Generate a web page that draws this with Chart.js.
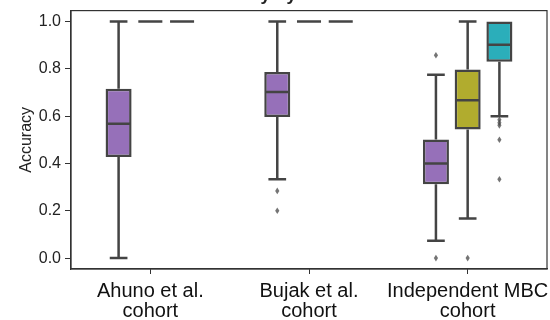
<!DOCTYPE html>
<html>
<head>
<meta charset="utf-8">
<script src="https://cdn.jsdelivr.net/npm/chart.js@4"></script>
<style>
  html, body { margin: 0; padding: 0; background: #fff; }
  #wrap { position: relative; width: 550px; height: 320px; overflow: hidden; }
  #holder { position: absolute; left: 0; top: -20px; width: 550px; height: 340px; }
</style>
</head>
<body>
<div id="wrap"><div id="holder"><canvas id="chart"></canvas></div></div>
<script>
// categories on the x axis
const categories = [['Ahuno et al.', 'cohort'], ['Bujak et al.', 'cohort'], ['Independent MBC', 'cohort']];
const yTicks = [0.0, 0.2, 0.4, 0.6, 0.8, 1.0];

// box stats per hue (one entry per cohort)
const purpleQ1 = [0.427, 0.596, 0.312];
const purpleMed = [0.568, 0.702, 0.400];
const purpleQ3 = [0.716, 0.786, 0.501];
const purpleLo = [0.0, 0.333, 0.073];
const purpleHi = [1.0, 1.0, 0.775];
const purpleOut = [[], [0.284, 0.2], [0.857, 0.0]];

const oliveQ1 = [1.0, 1.0, 0.544];
const oliveMed = [1.0, 1.0, 0.667];
const oliveQ3 = [1.0, 1.0, 0.797];
const oliveLo = [1.0, 1.0, 0.167];
const oliveHi = [1.0, 1.0, 1.0];
const oliveOut = [[], [], [0.0]];

const tealQ1 = [1.0, 1.0, 0.83];
const tealMed = [1.0, 1.0, 0.902];
const tealQ3 = [1.0, 1.0, 1.0];
const tealLo = [1.0, 1.0, 0.6];
const tealHi = [1.0, 1.0, 1.0];
const tealOut = [[], [], [0.585, 0.572, 0.561, 0.5, 0.333]];

const EDGE = '#444444';
const FONT = 'Liberation Sans, Arial, sans-serif';

const hues = [
    { label: 'Series 1', color: '#9670b9', q1: purpleQ1, med: purpleMed, q3: purpleQ3, lo: purpleLo, hi: purpleHi, out: purpleOut },
    { label: 'Series 2', color: '#b1ac2e', q1: oliveQ1, med: oliveMed, q3: oliveQ3, lo: oliveLo, hi: oliveHi, out: oliveOut },
    { label: 'Series 3', color: '#2baeba', q1: tealQ1, med: tealMed, q3: tealQ3, lo: tealLo, hi: tealHi, out: tealOut }
];

// whiskers, caps, medians, fliers and the top/right frame
const boxPlugin = {
    id: 'boxExtras',
    afterDatasetsDraw(chart) {
        const ctx = chart.ctx;
        const y = chart.scales.y;
        ctx.save();
        ctx.strokeStyle = EDGE;
        ctx.lineWidth = 2.5;
        hues.forEach((h, i) => {
            const meta = chart.getDatasetMeta(i);
            meta.data.forEach((el, j) => {
                const x = el.x;
                const w = el.width;
                const cap = w * 0.34;
                const flat = h.q1[j] === h.q3[j];
                const yq1 = y.getPixelForValue(h.q1[j]);
                const yq3 = y.getPixelForValue(h.q3[j]);
                const ylo = y.getPixelForValue(h.lo[j]);
                const yhi = y.getPixelForValue(h.hi[j]);
                const ymed = y.getPixelForValue(h.med[j]);
                ctx.beginPath();
                // lower whisker + cap
                if (flat || h.lo[j] !== h.q1[j]) {
                    ctx.moveTo(x, yq1); ctx.lineTo(x, ylo);
                    ctx.moveTo(x - cap, ylo); ctx.lineTo(x + cap, ylo);
                }
                // upper whisker + cap
                if (flat || h.hi[j] !== h.q3[j]) {
                    ctx.moveTo(x, yq3); ctx.lineTo(x, yhi);
                    ctx.moveTo(x - cap, yhi); ctx.lineTo(x + cap, yhi);
                }
                // median
                ctx.moveTo(x - w / 2 + 1, ymed); ctx.lineTo(x + w / 2 - 1, ymed);
                ctx.stroke();
                // fliers as thin diamonds
                ctx.fillStyle = 'rgba(70,70,70,0.75)';
                h.out[j].forEach(v => {
                    const py = y.getPixelForValue(v);
                    ctx.beginPath();
                    ctx.moveTo(x, py - 3.3);
                    ctx.lineTo(x + 2.1, py);
                    ctx.lineTo(x, py + 3.3);
                    ctx.lineTo(x - 2.1, py);
                    ctx.closePath();
                    ctx.fill();
                });
            });
        });
        const a = chart.chartArea;
        ctx.strokeStyle = '#333';
        ctx.lineWidth = 1.2;
        ctx.strokeRect(a.left, a.top, a.right - a.left, a.bottom - a.top);
        ctx.restore();
    }
};

new Chart(document.getElementById('chart'), {
    type: 'bar',
    data: {
        labels: categories,
        datasets: hues.map(h => ({
            label: h.label,
            data: h.q1.map((v, j) => [v, h.q3[j]]),
            backgroundColor: h.color,
            borderColor: EDGE,
            borderWidth: 2.5,
            borderSkipped: false,
            categoryPercentage: 0.6,
            barPercentage: 0.82
        }))
    },
    options: {
        responsive: true,
        maintainAspectRatio: false,
        animation: false,
        layout: { padding: { left: 0, right: 3, top: 0, bottom: 0 } },
        plugins: {
            legend: { display: false },
            tooltip: { enabled: false },
            title: {
                display: true,
                text: 'Accuracy by cohort',
                color: '#222',
                font: { family: FONT, size: 18 },
                padding: { top: 4, bottom: 5 }
            }
        },
        scales: {
            x: {
                grid: { display: true, offset: false, drawOnChartArea: false, drawTicks: true, tickLength: 5, color: '#333' },
                border: { display: true, color: '#333', width: 1.2 },
                ticks: {
                    color: '#111',
                    padding: 7,
                    maxRotation: 0,
                    autoSkip: false,
                    font: { family: FONT, size: 20, lineHeight: 1.0 }
                },
                afterFit(scale) {
                    scale.height = 51;
                    scale.paddingLeft = 0;
                    scale.paddingRight = 0;
                }
            },
            y: {
                min: -0.046,
                max: 1.046,
                afterBuildTicks(scale) { scale.ticks = yTicks.map(v => ({ value: v })); },
                grid: { display: true, drawOnChartArea: false, drawTicks: true, tickLength: 6, color: '#333' },
                border: { display: true, color: '#333', width: 1.2 },
                ticks: {
                    color: '#222',
                    padding: 4,
                    font: { family: FONT, size: 16 },
                    callback: v => v.toFixed(1)
                },
                title: {
                    display: true,
                    text: 'Accuracy',
                    color: '#222',
                    font: { family: FONT, size: 16 },
                    padding: { top: 17, bottom: 0 }
                },
                afterFit(scale) { scale.width = 71; }
            }
        }
    },
    plugins: [boxPlugin]
});
</script>
</body>
</html>
